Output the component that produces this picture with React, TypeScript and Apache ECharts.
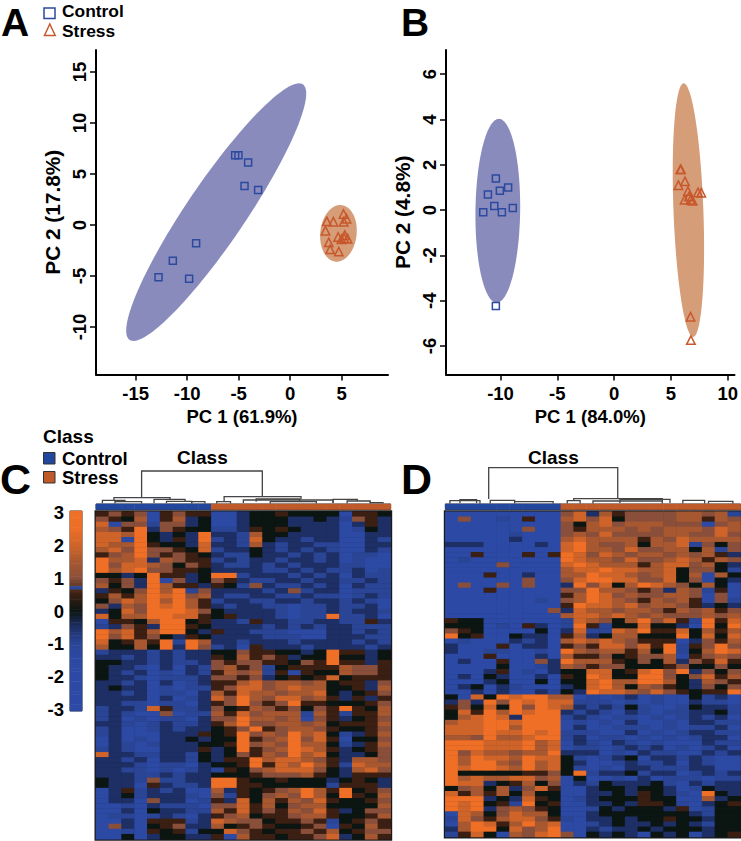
import React, { useEffect, useRef } from "react";
import * as echarts from "echarts";

const FONT = '"Liberation Sans"';
const BLUE = "#2b4a9e";
const ORANGE = "#c8582c";

// PCA scatter points [PC1, PC2]
const controlA = [[-5.34, 6.83], [-5.02, 6.83], [-4.08, 6.14], [-4.43, 3.82], [-3.11, 3.43], [-9.13, -1.8], [-11.39, -3.5], [-12.78, -5.13], [-9.81, -5.26]];
const stressA = [[5.18, 1.08], [5.47, 0.62], [3.56, 0.36], [4.2, 0.33], [5.2, 0.33], [3.43, -0.56], [5.3, -1.0], [4.66, -1.18], [5.57, -1.34], [4.98, -1.4], [5.24, -1.3], [3.75, -1.7], [3.88, -2.39], [4.72, -2.61]];
const controlB = [[-10.41, 1.4], [-9.33, 1.0], [-10.06, 0.85], [-11.11, 0.69], [-10.55, 0.18], [-8.92, 0.09], [-11.52, -0.09], [-9.88, -0.1], [-10.41, -4.23]];
const stressB = [[5.83, 1.8], [5.88, 1.8], [6.24, 1.27], [5.66, 1.1], [6.5, 0.84], [6.59, 0.6], [7.38, 0.78], [7.67, 0.77], [6.21, 0.46], [6.73, 0.46], [6.91, 0.41], [6.73, -4.71], [6.76, -5.74]];

// Confidence ellipses [centre PC1, centre PC2, half width, half height, correlation]
const ellipseControlA = [[-7.18, 1.26, 8.74, 12.63, 0.92]];
const ellipseStressA = [[4.69, -0.82, 1.78, 2.78, 0.1]];
const ellipseControlB = [[-10.24, -0.03, 1.97, 4.06, 0.05]];
const ellipseStressB = [[6.54, 0.0, 1.38, 5.6, -0.3]];

// Axis ticks
const ticksAx = [-15, -10, -5, 0, 5];
const ticksAy = [-10, -5, 0, 5, 10, 15];
const ticksBx = [-10, -5, 0, 5, 10];
const ticksBy = [-6, -4, -2, 0, 2, 4, 6];

// Heatmap colour codes: each digit of a row below indexes this list of z-scores
const LEVELS = [-3, -1.5, -1, -0.5, 0, 0.5, 1, 1.5, 2, 3];
const sampleColumns = Array.from("abcdefghijklmnopqrstuvw");
const classes = [0, 0, 0, 0, 0, 0, 0, 0, 0, 1, 1, 1, 1, 1, 1, 1, 1, 1, 1, 1, 1, 1, 1];

// Rows (Control 9 samples, Stress 14 samples)
const heatRowsC = [
  "565615655 11344544441554", "654715734 11344433432653", "816626634 11344433331353", "765936544 22354543331243",
  "887943439 33274433331133", "881943539 23284332331132", "877954438 33273233221133", "786966548 23343232321132",
  "567965654 32243323231221", "977837655 23233233231211", "968876465 32232323332211", "978966554 33332232322312",
  "443495534 99233323231322", "656391634 65322332332232", "746397553 54263223231322", "354697926 33332362331222",
  "575798967 32233223221232", "468797975 23322332332321", "637698975 32332212232231", "348699986 43333212232332",
  "847799885 45333212292231", "155479945 33253322332253", "236539954 33332323233222", "978579943 53322211133232",
  "968564354 33332221133322", "845759297 33233323333232", "744749396 23153332333323", "233323233 44655443495534",
  "332323233 54756534494434", "443323223 65665546595535", "433213132 67562455557665", "432312132 57672515447665",
  "433212223 66563454584555", "332313123 55786776745536", "343312122 56886787744537", "332312213 75877677843456",
  "333313123 86976886753535", "332212213 56965695544456", "233285223 64576564659547", "232116122 75867772752557",
  "231212213 66977671653456", "332123223 57966776745557", "231123233 45695677654456", "231113335 45967697842357",
  "131213343 44956796851446", "132123334 45967697742357", "232113335 34956798753456", "833223324 34657697843346",
  "332313324 35597887653776", "333212213 44595879752877", "332212123 25467888643786", "333223233 44456667543555",
  "433262233 99544544434543", "433153223 99554444425553", "135232311 73545679759456", "134233321 62546769749547",
  "133163312 53847576854456", "112132221 66857467744447", "113143322 75856576853466", "122123213 56745567754457",
  "113155523 87664556524565", "163145633 74565445615475", "112154524 48654556574566", "114134433 51755455683475",
];

// Rows (Control 9 samples, Stress 14 samples)
const heatRowsD = [
  "000010000 68375666677672", "060021500 78684666677576", "000011000 64786777666167", "000001600 65777676777687",
  "000002000 67686666776686", "000003000 78777757687777", "333000030 89766747782646", "000000000 89776866774726",
  "005000505 98687677676753", "020000000 98776866787576", "000060000 89877757886743", "000000000 78898877846642",
  "000500300 77988767847174", "000000600 68998866846143", "060060600 39684798764741", "000500000 66977656376251",
  "000000000 57986766776161", "000000020 67987657675162", "000000000 59887867765343", "000000006 38776776576756",
  "000000000 78878767666767", "544000000 28764796852958", "444020530 29524484431949", "654000040 38228795584757",
  "945004330 57347744494848", "120113230 78787655513657", "311051330 56588685925696", "300220120 97677574924798",
  "011501030 75564566715676", "030050163 97775464736585", "000141023 76566444564464", "111351213 44884589693646",
  "131431130 54984499646857", "001340040 44897799743765", "134132100 34897476543646", "113131132 43988768654559",
  "418498997 71212312114231", "363969898 82221212113221", "564849698 73232421124332", "485979899 32321321223342",
  "478983999 23212212123231", "788998999 12121311213322", "888997999 13112221212231", "888988989 22211312123322",
  "776977899 23122121212331", "999888978 13213212111322", "999888978 12212323121231", "968776779 33312132211323",
  "979887988 42123413323211", "979976978 43112322313211", "989987978 42121332223311", "944444556 49233423312323",
  "978778867 14112131222122", "988345746 13243334213233", "467473685 11344344312433", "857574744 11334354321943",
  "999343854 12344454411734", "989452945 11334355421345", "989367654 11243444351244", "187468774 11344444443244",
  "286578865 21334344544344", "179857978 11234334343244", "379948679 11323343444344", "258417689 61434314341345",
];

// Colour key values, top to bottom (the blue streak near 0.7 is in the reference's key)
const keyValues = [
  3, 2.9, 2.8, 2.7, 2.6, 2.5, 2.4, 2.3, 2.2, 2.1, 2, 1.9, 1.8, 1.7, 1.6, 1.5, 1.4, 1.3, 1.2, 1.1, 1, 0.9, 0.8, -1.2, 0.6,
  0.5, 0.4, 0.3, 0.2, 0.1, 0, -0.1, -0.2, -0.3, -0.4, -0.5, -0.6, -0.7, -0.8, -0.9, -1, -1.1, -1.2, -1.3, -1.4, -1.5, -1.6,
  -1.7, -1.8, -1.9, -2, -2.1, -2.2, -2.3, -2.4, -2.5, -2.6, -2.7, -2.8, -2.9, -3,
];

// Dendrogram links [left sample, right sample, height, left base, right base]
const dendroC = [
  [3.56, 12.98, 33, 6.3, 7.3], [1.4, 5.78, 6.3, 3.7, 4.7], [0.5, 2.26, 3.7, 0.8, 2.3], [1.48, 3.56, 2.3, 0.5, 0.5],
  [4.53, 6.95, 4.7, 1, 2.7], [5.5, 7.47, 2.7, 0.8, 0.8], [7.47, 8.5, 2.3, 0.5, 0.5], [10, 16, 7.3, 2.3, 5],
  [9.42, 10.5, 2.3, 0.5, 0.5], [11.5, 18.5, 4, 1, 1], [12.5, 15.9, 5, 2.3, 2.3], [13.6, 17.2, 2.3, 0.6, 0.6],
  [18.5, 20.4, 4.7, 1, 3], [19.6, 21.4, 3, 0.6, 1.3], [21.4, 22.4, 1.3, 0.4, 0.4],
];
const dendroD = [
  [3.38, 13.43, 36.3, 5, 5.3], [0.36, 2.7, 3.3, 0.6, 0.6], [1.14, 2.44, 4.3, 1, 1], [3.5, 5.4, 3.7, 0.6, 2.3],
  [5.4, 8.4, 2.3, 0.6, 0.6], [10, 16.9, 5.3, 3.3, 3], [9.5, 10.5, 3.3, 0.6, 0.6], [11.5, 16.9, 3, 0.6, 0.6],
  [13.6, 17.5, 4.7, 1, 1], [18.5, 20.2, 3.7, 0.6, 0.6], [20.5, 22.4, 2.7, 0.6, 0.6],
];

const textBase = { fontFamily: FONT, fontWeight: "bold" as const, color: "#000" };

function scatterAxis(grid: number, min: number, max: number, ticks: number[], rotate: number, margin: number, name: string, nameGap: number, nameSize: number) {
  return {
    type: "value", gridIndex: grid, min, max, name, nameLocation: "middle", nameGap,
    nameTextStyle: { ...textBase, fontSize: nameSize },
    axisLine: { show: true, onZero: false, lineStyle: { color: "#000", width: 2 } },
    axisTick: { show: true, length: 6, customValues: ticks, lineStyle: { color: "#000", width: 1.5 } },
    axisLabel: { show: true, customValues: ticks, rotate, margin, ...textBase, fontSize: 18.5 },
    splitLine: { show: false },
  };
}

function hiddenCategory(grid: number, data: unknown[], inverse = false) {
  return { type: "category", gridIndex: grid, data, inverse, show: false, axisLine: { show: false }, axisTick: { show: false }, axisLabel: { show: false } };
}

function hiddenValue(grid: number, min: number, max: number) {
  return { type: "value", gridIndex: grid, min, max, show: false, splitLine: { show: false } };
}

function ellipseSeries(xi: number, data: number[][], color: string) {
  return {
    type: "custom", xAxisIndex: xi, yAxisIndex: xi, silent: true, clip: false, z: 1, data,
    renderItem: (_: unknown, api: any) => {
      const cx = api.value(0), cy = api.value(1), w = api.value(2), h = api.value(3), r = api.value(4);
      const points: number[][] = [];
      for (let i = 0; i < 120; i++) {
        const t = (i / 120) * Math.PI * 2;
        points.push(api.coord([cx + w * Math.cos(t), cy + h * (r * Math.cos(t) + Math.sqrt(1 - r * r) * Math.sin(t))]));
      }
      return { type: "polygon", shape: { points }, style: { fill: color } };
    },
  };
}

function pointSeries(xi: number, data: number[][], symbol: string, size: number, color: string) {
  return {
    type: "scatter", xAxisIndex: xi, yAxisIndex: xi, data, symbol, symbolSize: size, z: 3, silent: true,
    itemStyle: { color: "rgba(0,0,0,0)", borderColor: color, borderWidth: 1.5, opacity: 1 },
  };
}

function heatSeries(xi: number, rows: string[]) {
  const data: number[][] = [];
  rows.forEach((row, y) => {
    row.replace(/ /g, "").split("").forEach((c, x) => data.push([x, y, LEVELS[Number(c)]]));
  });
  return { type: "heatmap", xAxisIndex: xi, yAxisIndex: xi, data, silent: true, emphasis: { disabled: true } };
}

function classSeries(xi: number) {
  return { type: "heatmap", xAxisIndex: xi, yAxisIndex: xi, data: classes.map((c, i) => [i, 0, c]), silent: true, emphasis: { disabled: true } };
}

function dendroSeries(xi: number, links: number[][]) {
  return {
    type: "custom", xAxisIndex: xi, yAxisIndex: xi, silent: true, clip: false, data: links,
    renderItem: (_: unknown, api: any) => {
      const x0 = api.value(0), x1 = api.value(1), h = api.value(2), a = api.value(3), b = api.value(4);
      const points = [api.coord([x0, a]), api.coord([x0, h]), api.coord([x1, h]), api.coord([x1, b])];
      return { type: "polyline", shape: { points }, style: { stroke: "#444", fill: "none", lineWidth: 1.3 } };
    },
  };
}

function label(text: string, x: number, y: number, size: number) {
  return { type: "text", style: { text, x, y, font: `bold ${size}px ${FONT}`, fill: "#000", align: "left", verticalAlign: "middle" } };
}

export default function App() {
  const ref = useRef<HTMLDivElement>(null);
  useEffect(() => {
    const chart = echarts.init(ref.current!, null, { renderer: "svg" });
    const keyCats = keyValues.map(String);
    const rowIdxC = heatRowsC.map((_, i) => i);
    const rowIdxD = heatRowsD.map((_, i) => i);
    chart.setOption({
      animation: false,
      backgroundColor: "#fff",
      grid: [
        { left: 96, top: 50, width: 292, height: 324.5, containLabel: false },
        { left: 446, top: 50, width: 290.7, height: 324.5 },
        { left: 96, top: 511.7, width: 294.7, height: 327.6, show: true, borderColor: "#1a1a1a", borderWidth: 3, backgroundColor: "#000" },
        { left: 445.3, top: 511.7, width: 295.3, height: 325.3, show: true, borderColor: "#1a1a1a", borderWidth: 3, backgroundColor: "#000" },
        { left: 96, top: 504, width: 294.7, height: 5.5, show: true, borderColor: "#333", borderWidth: 1 },
        { left: 445.3, top: 504, width: 295.3, height: 5.5, show: true, borderColor: "#333", borderWidth: 1 },
        { left: 96, top: 464, width: 294.7, height: 40 },
        { left: 445.3, top: 464, width: 295.3, height: 40 },
        { left: 70, top: 511, width: 12, height: 200, show: true, borderColor: "#333", borderWidth: 1 },
      ],
      xAxis: [
        scatterAxis(0, -18.85, 9.5, ticksAx, 0, 9, "PC 1 (61.9%)", 32, 18.5),
        scatterAxis(1, -14.8, 10.6, ticksBx, 0, 9, "PC 1 (84.0%)", 32, 18.5),
        hiddenCategory(2, sampleColumns),
        hiddenCategory(3, sampleColumns),
        hiddenCategory(4, sampleColumns),
        hiddenCategory(5, sampleColumns),
        hiddenValue(6, 0, 23),
        hiddenValue(7, 0, 23),
        hiddenCategory(8, ["key"]),
      ],
      yAxis: [
        scatterAxis(0, -14.66, 17.16, ticksAy, 90, 7, "PC 2 (17.8%)", 33, 20.8),
        scatterAxis(1, -7.26, 7.07, ticksBy, 90, 7, "PC 2 (4.8%)", 33, 20.8),
        hiddenCategory(2, rowIdxC, true),
        hiddenCategory(3, rowIdxD, true),
        hiddenCategory(4, ["class"]),
        hiddenCategory(5, ["class"]),
        hiddenValue(6, 0, 40),
        hiddenValue(7, 0, 40),
        {
          type: "category", gridIndex: 8, data: keyCats, inverse: true,
          axisLine: { show: false }, axisTick: { show: false },
          axisLabel: {
            show: true, margin: 6, ...textBase, fontSize: 18.5,
            interval: (_: number, v: string) => Number.isInteger(Number(v)),
          },
        },
      ],
      visualMap: [
        {
          show: false, type: "continuous", min: -3, max: 3, seriesIndex: [8, 9, 14],
          inRange: { color: ["#2c4aa5", "#2c4aa5", "#2c4aa5", "#2c49a3", "#2a4595", "#1e2f66", "#0b1512", "#3a1f12", "#8a4f3a", "#a85830", "#cf642a", "#ec6e26", "#ef6f26"] },
        },
        {
          show: false, type: "piecewise", seriesIndex: [10, 11],
          pieces: [{ value: 0, color: "#24479e" }, { value: 1, color: "#bf5a2b" }],
        },
      ],
      series: [
        ellipseSeries(0, ellipseControlA, "#8a8bbd"),
        ellipseSeries(0, ellipseStressA, "#d69d79"),
        ellipseSeries(1, ellipseControlB, "#8a8bbd"),
        ellipseSeries(1, ellipseStressB, "#d69d79"),
        pointSeries(0, controlA, "rect", 7, BLUE),
        pointSeries(0, stressA, "triangle", 8.5, ORANGE),
        pointSeries(1, controlB, "rect", 7, BLUE),
        pointSeries(1, stressB, "triangle", 8.5, ORANGE),
        heatSeries(2, heatRowsC),
        heatSeries(3, heatRowsD),
        classSeries(4),
        classSeries(5),
        dendroSeries(6, dendroC),
        dendroSeries(7, dendroD),
        { type: "heatmap", xAxisIndex: 8, yAxisIndex: 8, data: keyValues.map((v, i) => [0, i, v]), silent: true, emphasis: { disabled: true } },
      ],
      graphic: [
        label("A", 1, 22.5, 39),
        label("B", 401, 22.5, 39),
        label("C", 0, 479, 43),
        label("D", 401, 479, 43),
        label("Control", 62, 10.5, 17.4),
        label("Stress", 62, 30.5, 17.4),
        { type: "rect", shape: { x: 44, y: 8, width: 11, height: 10.5 }, style: { fill: "none", stroke: BLUE, lineWidth: 1.5 } },
        { type: "polygon", shape: { points: [[44.5, 35.5], [49.8, 24], [55.2, 35.5]] }, style: { fill: "none", stroke: ORANGE, lineWidth: 1.5 } },
        label("Class", 43, 436, 19),
        label("Control", 62, 458, 18.5),
        label("Stress", 62, 477, 18.5),
        { type: "rect", shape: { x: 43.5, y: 452.5, width: 11.5, height: 11.5 }, style: { fill: "#24479e", stroke: "#333", lineWidth: 1 } },
        { type: "rect", shape: { x: 43.5, y: 471.5, width: 11.5, height: 11.5 }, style: { fill: "#bf5a2b", stroke: "#333", lineWidth: 1 } },
        label("Class", 177, 457, 19),
        label("Class", 528, 457, 19),
      ],
    });
    return () => chart.dispose();
  }, []);
  return <div ref={ref} style={{ position: "absolute", left: 0, top: 0, width: 741, height: 841 }} />;
}
